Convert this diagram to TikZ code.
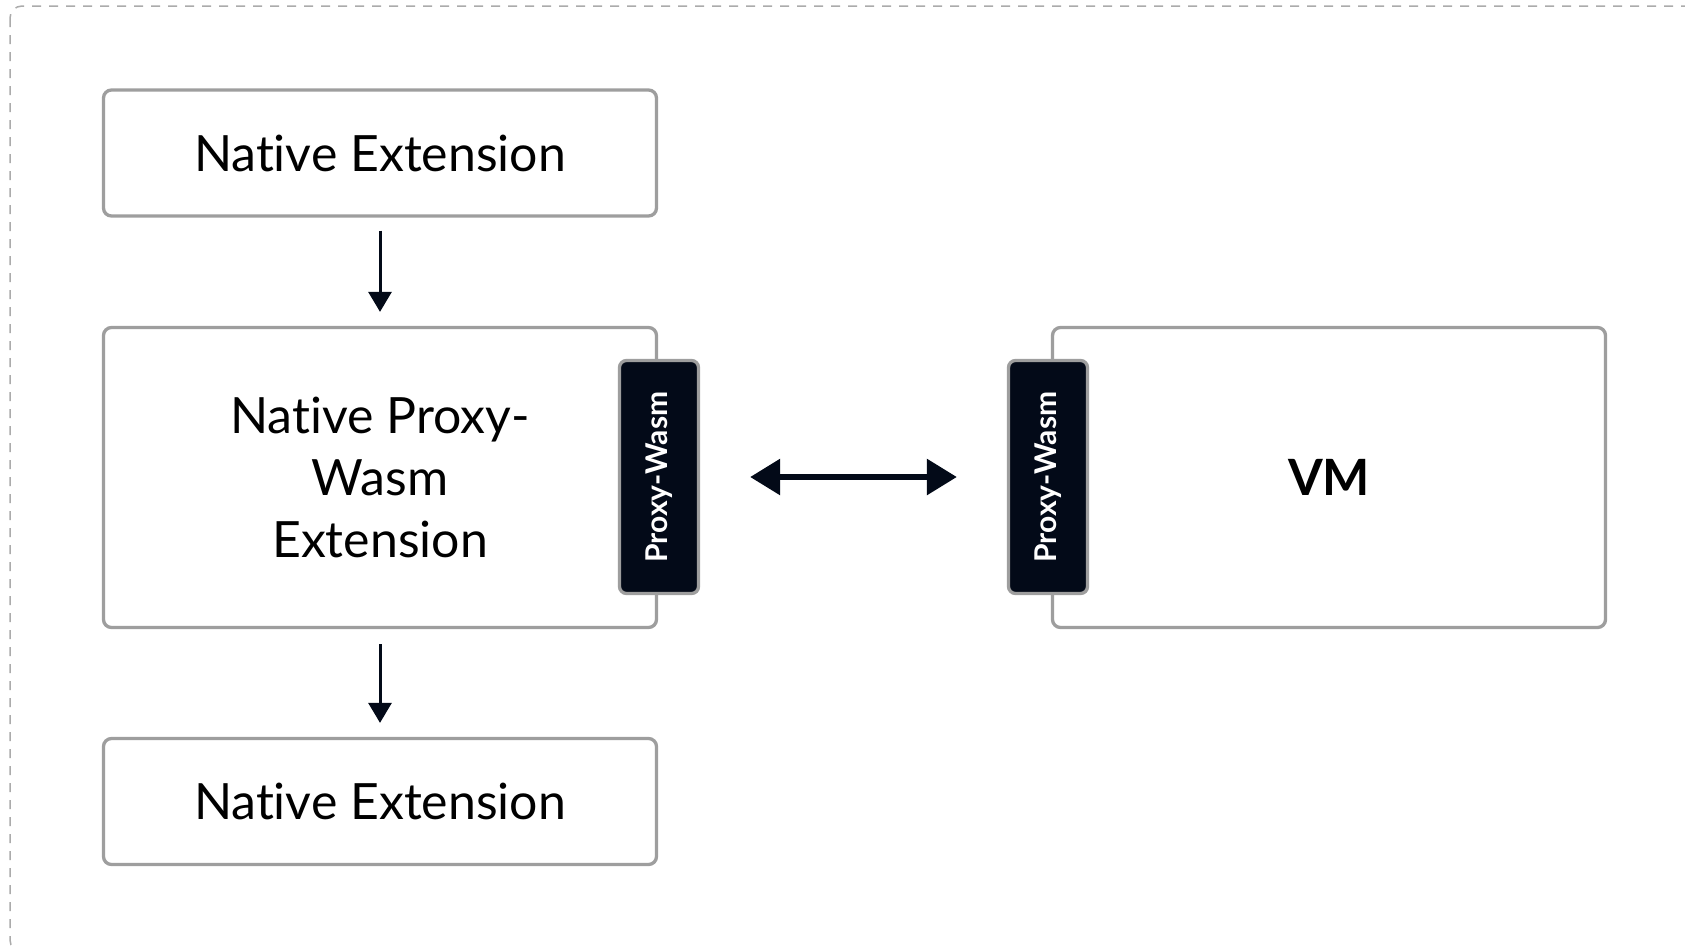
\documentclass[tikz,border=0pt]{standalone}
\usepackage{fontspec}
\setmainfont{Lato}[Ligatures={NoCommon}]
\usepackage{graphicx}
\usetikzlibrary{arrows.meta}
\definecolor{boxgray}{HTML}{9E9E9E}
\definecolor{dashgray}{HTML}{ABABAB}
\definecolor{ink}{HTML}{030A18}
\begin{document}
\begin{tikzpicture}[x=1pt,y=-1pt,
  box/.style={draw=boxgray, line width=3.3pt, rounded corners=8pt, fill=white,
    minimum width=553pt, inner sep=0pt, align=center, text=black,
    font=\fontsize{50}{62}\selectfont},
  tab/.style={draw=boxgray, line width=3.3pt, rounded corners=7pt, fill=ink,
    minimum width=79pt, minimum height=233pt, inner sep=0pt, text=white,
    font=\fontsize{30}{34}\selectfont\bfseries},
  flow/.style={draw=ink, line width=3pt, -{Triangle[length=20pt,width=23pt]}},
  link/.style={draw=ink, line width=6pt, {Triangle[length=30pt,width=35pt]}-{Triangle[length=30pt,width=35pt]}}
]
\useasboundingbox (0,0) rectangle (1685,946);
\begin{scope}
  \clip (0,0) rectangle (1685,946);
  \draw[dashgray, line width=1.5pt, dash pattern=on 9pt off 8pt, rounded corners=12pt]
    (10,6) rectangle (1720,952);
\end{scope}
\node[box, minimum height=126pt] (top) at (380,153) {Native Extension};
\node[box, minimum height=300pt] (mid) at (380,477.5) {Native Proxy-\\Wasm\\Extension};
\node[box, minimum height=126pt] (bot) at (380,801.5) {Native Extension};
\node[box, minimum height=300pt, font=\fontsize{50}{60}\selectfont\bfseries] (vm) at (1329,477.5) {VM};
\node[tab] (lt) at (659,477) {\rotatebox{90}{Proxy-Wasm}};
\node[tab] (rt) at (1048,477) {\rotatebox{90}{Proxy-Wasm}};
\draw[flow, shorten <=13pt, shorten >=14pt] (top.south) -- (mid.north);
\draw[flow, shorten <=15pt, shorten >=14pt] (mid.south) -- (bot.north);
\draw[link, shorten <=50pt, shorten >=50pt] (lt.east) -- (rt.west);
\end{tikzpicture}
\end{document}
